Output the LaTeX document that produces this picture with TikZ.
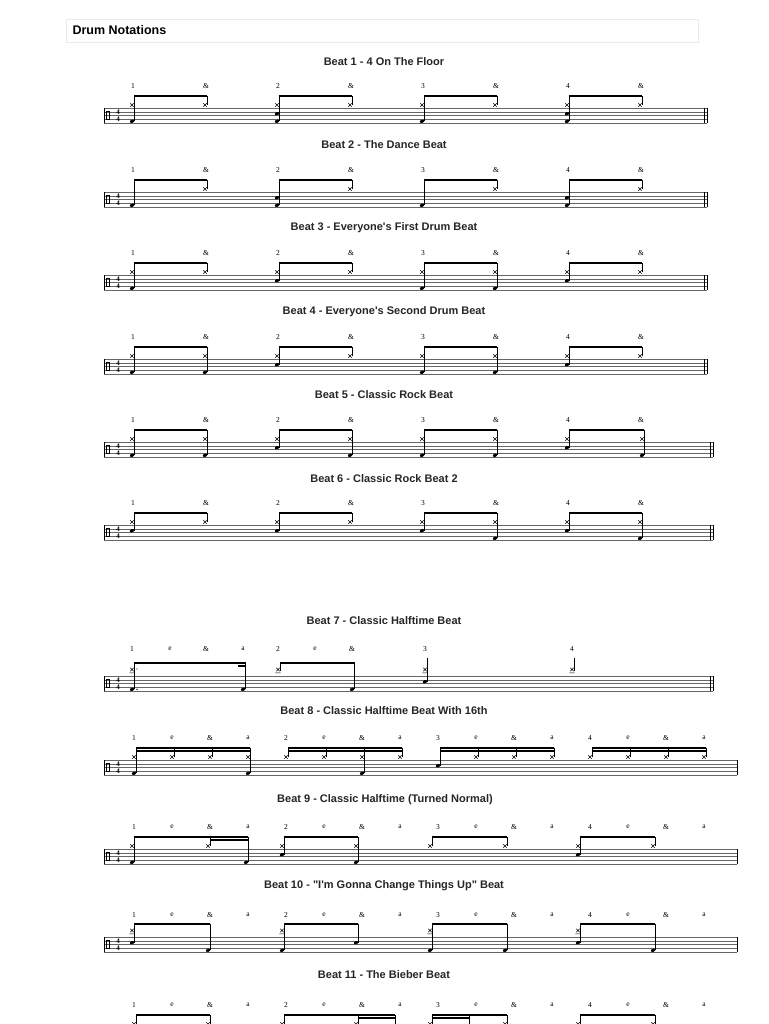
\documentclass[tikz,border=0pt]{standalone}
\usepackage{fontspec}
\setmainfont{Liberation Serif}
\newfontfamily\tsans{Liberation Sans}
\tikzset{
  title/.style={font=\tsans\bfseries\fontsize{11}{13}\selectfont, anchor=center, text=black!85},
  cnt/.style={font=\fontsize{7.5}{9}\selectfont, anchor=center},
  stf/.style={line width=0.45pt, black!60},
  stem/.style={line width=0.5pt},
  beam/.style={line width=1.6pt},
}
% staff: #1 top y, #2 right end, #3 double bar?
\newcommand\Staff[3]{%
  \foreach \k in {0,...,4} \draw[stf] (104,{#1+3.8*\k}) -- (#2,{#1+3.8*\k});
  \draw[line width=0.5pt] (104,#1) -- (104,{#1+15.2});
  \draw[line width=0.6pt] (106.5,{#1+3.5}) rectangle (109.5,{#1+11.7});
  \node[font=\bfseries\fontsize{7}{7}\selectfont,inner sep=0] at (118,{#1+3.8}) {4};
  \node[font=\bfseries\fontsize{7}{7}\selectfont,inner sep=0] at (118,{#1+11.4}) {4};
  \draw[line width=0.6pt] (#2,#1) -- (#2,{#1+15.2});
  \ifnum#3=1 \draw[line width=0.6pt] ({#2-3},#1) -- ({#2-3},{#1+15.2});\fi
}
\newcommand\HX[2]{\draw[line width=0.5pt] ({#1-1.7},{#2-4.7}) -- ({#1+1.7},{#2-1.3}) ({#1-1.7},{#2-1.3}) -- ({#1+1.7},{#2-4.7});}
\newcommand\AX[2]{\draw[line width=0.5pt] ({#1-1.7},{#2-8.2}) -- ({#1+1.7},{#2-4.8}) ({#1-1.7},{#2-4.8}) -- ({#1+1.7},{#2-8.2}) ({#1-2.6},{#2-3.2}) -- ({#1+2.6},{#2-3.2});}
\newcommand\HD[2]{\fill[rotate around={20:(#1,#2)}] (#1,#2) ellipse (2.3 and 1.6);}
\newcommand\SN[2]{\HD{#1}{#2+5.7}}
\newcommand\BD[2]{\HD{#1}{#2+13.3}}
% stem: x, T, bottom offset, top offset
\newcommand\ST[4]{\draw[stem] ({#1+2.2},{#2+#3}) -- ({#1+2.2},{#2-#4});}
\newcommand\Nh[2]{\HX{#1}{#2}\ST{#1}{#2}{-3}{12}}
\newcommand\Nhb[2]{\HX{#1}{#2}\BD{#1}{#2}\ST{#1}{#2}{13.3}{12}}
\newcommand\Nhs[2]{\HX{#1}{#2}\SN{#1}{#2}\ST{#1}{#2}{5.7}{12}}
\newcommand\Nhsb[2]{\HX{#1}{#2}\SN{#1}{#2}\BD{#1}{#2}\ST{#1}{#2}{13.3}{12}}
\newcommand\Nb[2]{\BD{#1}{#2}\ST{#1}{#2}{13.3}{12}}
\newcommand\Ns[2]{\SN{#1}{#2}\ST{#1}{#2}{5.7}{12}}
\newcommand\Nsb[2]{\SN{#1}{#2}\BD{#1}{#2}\ST{#1}{#2}{13.3}{12}}
\newcommand\Nas[2]{\AX{#1}{#2}\SN{#1}{#2}\ST{#1}{#2}{5.7}{13}}
\newcommand\Nab[2]{\AX{#1}{#2}\BD{#1}{#2}\ST{#1}{#2}{13.3}{13}}
\newcommand\BM[3]{\draw[beam] ({#1+1.95},{#3-12}) -- ({#2+2.45},{#3-12});}
\newcommand\BMM[3]{\draw[beam] ({#1+1.95},{#3-9}) -- ({#2+2.45},{#3-9});}
\newcommand\BMc[3]{\draw[beam] ({#1+1.95},{#3-13}) -- ({#2+2.45},{#3-13});}
% eighth counts
\newcommand\Ecounts[1]{%
  \foreach \o/\l in {132/1,277/2,422/3,567/4}{\node[cnt] at (\o+1,#1-22) {\l};\node[cnt] at (\o+74,#1-22) {\&};}}
\newcommand\Scounts[1]{%
  \foreach \o/\l [count=\i from 0] in {134/1,286/2,438/3,590/4}{%
    \node[cnt] at (\o,#1-22) {\l};\node[cnt] at (\o+38,#1-22) {e};
    \node[cnt] at (\o+76,#1-22) {\&};\node[cnt] at (\o+114,#1-22) {a};}}
\begin{document}
\begin{tikzpicture}[x=1pt,y=-1pt]
\useasboundingbox (0,0) rectangle (768,1024);
\clip (0,0) rectangle (768,1024);
\fill[white] (0,0) rectangle (768,1024);
\draw[black!8] (66,19) rectangle (698,42);
\node[font=\tsans\bfseries\fontsize{12.5}{14}\selectfont,anchor=west] (head) at (69,30) {Drum Notations};
% ---- Beat 1
\node[title] (t1) at (384,62) {Beat 1 - 4 On The Floor};
\def\T{108}\Staff{\T}{707}{1}\Ecounts{\T}
\Nhb{132}{\T}\Nh{205}{\T}\BM{132}{205}{\T}
\Nhsb{277}{\T}\Nh{350}{\T}\BM{277}{350}{\T}
\Nhb{422}{\T}\Nh{495}{\T}\BM{422}{495}{\T}
\Nhsb{567}{\T}\Nh{640}{\T}\BM{567}{640}{\T}
% ---- Beat 2
\node[title] (t2) at (384,145) {Beat 2 - The Dance Beat};
\def\T{192}\Staff{\T}{707}{1}\Ecounts{\T}
\Nb{132}{\T}\Nh{205}{\T}\BM{132}{205}{\T}
\Nsb{277}{\T}\Nh{350}{\T}\BM{277}{350}{\T}
\Nb{422}{\T}\Nh{495}{\T}\BM{422}{495}{\T}
\Nsb{567}{\T}\Nh{640}{\T}\BM{567}{640}{\T}
% ---- Beat 3
\node[title] (t3) at (384,228) {Beat 3 - Everyone's First Drum Beat};
\def\T{275}\Staff{\T}{707}{1}\Ecounts{\T}
\Nhb{132}{\T}\Nh{205}{\T}\BM{132}{205}{\T}
\Nhs{277}{\T}\Nh{350}{\T}\BM{277}{350}{\T}
\Nhb{422}{\T}\Nhb{495}{\T}\BM{422}{495}{\T}
\Nhs{567}{\T}\Nh{640}{\T}\BM{567}{640}{\T}
% ---- Beat 4
\node[title] (t4) at (384,312) {Beat 4 - Everyone's Second Drum Beat};
\def\T{359}\Staff{\T}{707}{1}\Ecounts{\T}
\Nhb{132}{\T}\Nhb{205}{\T}\BM{132}{205}{\T}
\Nhs{277}{\T}\Nh{350}{\T}\BM{277}{350}{\T}
\Nhb{422}{\T}\Nhb{495}{\T}\BM{422}{495}{\T}
\Nhs{567}{\T}\Nh{640}{\T}\BM{567}{640}{\T}
% ---- Beat 5
\node[title] (t5) at (384,395) {Beat 5 - Classic Rock Beat};
\def\T{442}\Staff{\T}{713}{1}\Ecounts{\T}
\Nhb{132}{\T}\Nhb{205}{\T}\BM{132}{205}{\T}
\Nhs{277}{\T}\Nhb{350}{\T}\BM{277}{350}{\T}
\Nhb{422}{\T}\Nhb{495}{\T}\BM{422}{495}{\T}
\Nhs{567}{\T}\Nhb{642}{\T}\BM{567}{642}{\T}
% ---- Beat 6
\node[title] (t6) at (384,479) {Beat 6 - Classic Rock Beat 2};
\def\T{525}\Staff{\T}{713}{1}\Ecounts{\T}
\Nhs{132}{\T}\Nh{205}{\T}\BM{132}{205}{\T}
\Nhs{277}{\T}\Nh{350}{\T}\BM{277}{350}{\T}
\Nhs{422}{\T}\Nhb{495}{\T}\BM{422}{495}{\T}
\Nhs{567}{\T}\Nhb{640}{\T}\BM{567}{640}{\T}
% ---- Beat 7
\node[title] (t7) at (384,621) {Beat 7 - Classic Halftime Beat};
\def\T{676}\Staff{\T}{713}{1}
\foreach \x/\l in {132/1,170/e,206/\&,243/a,278/2,315/e,352/\&,425/3,572/4}{\node[cnt] at (\x,\T-27) {\l};}
\Nab{132}{\T}\fill (137,{\T+13.3}) circle (0.8);\fill (137,{\T-7}) circle (0.6);
\Nb{243}{\T}\ST{243}{\T}{13.3}{14}
\BMc{132}{243}{\T}\draw[beam] (238,{\T-10}) -- (245.5,{\T-10});
\AX{278}{\T}\ST{278}{\T}{-5}{14}\Nb{352}{\T}\ST{352}{\T}{13.3}{14}\BMc{278}{352}{\T}
\Nas{425}{\T}\ST{425}{\T}{5.7}{18}
\AX{572}{\T}\ST{572}{\T}{-5}{18}
% ---- Beat 8
\node[title] (t8) at (384,711) {Beat 8 - Classic Halftime Beat With 16th};
\def\T{760}\Staff{\T}{737}{0}\Scounts{\T}
\Nhb{134}{\T}\Nh{172}{\T}\Nh{210}{\T}\Nhb{248}{\T}\BM{134}{248}{\T}\BMM{134}{248}{\T}
\Nh{286}{\T}\Nh{324}{\T}\Nhb{362}{\T}\Nh{400}{\T}\BM{286}{400}{\T}\BMM{286}{400}{\T}
\Ns{438}{\T}\Nh{476}{\T}\Nh{514}{\T}\Nh{552}{\T}\BM{438}{552}{\T}\BMM{438}{552}{\T}
\Nh{590}{\T}\Nh{628}{\T}\Nh{666}{\T}\Nh{704}{\T}\BM{590}{704}{\T}\BMM{590}{704}{\T}
% ---- Beat 9
\node[title] (t9) at (385,800) {Beat 9 - Classic Halftime (Turned Normal)};
\def\T{849}\Staff{\T}{737}{0}\Scounts{\T}
\Nhb{132}{\T}\Nh{208}{\T}\Nb{246}{\T}\BM{132}{246}{\T}\BMM{208}{246}{\T}
\Nhs{282}{\T}\Nhb{356}{\T}\BM{282}{356}{\T}
\Nh{430}{\T}\Nh{505}{\T}\BM{430}{505}{\T}
\Nhs{578}{\T}\Nh{653}{\T}\BM{578}{653}{\T}
% ---- Beat 10
\node[title] (t10) at (384,886) {Beat 10 - "I'm Gonna Change Things Up" Beat};
\def\T{937}\Staff{\T}{737}{0}\Scounts{\T}
\Nas{132}{\T}\Nb{208}{\T}\BMc{132}{208}{\T}\ST{208}{\T}{13.3}{13}
\Nab{282}{\T}\Ns{356}{\T}\BMc{282}{356}{\T}\ST{356}{\T}{5.7}{13}
\Nab{430}{\T}\Nb{505}{\T}\BMc{430}{505}{\T}\ST{505}{\T}{13.3}{13}
\Nas{578}{\T}\Nb{653}{\T}\BMc{578}{653}{\T}\ST{653}{\T}{13.3}{13}
% ---- Beat 11
\node[title] (t11) at (384,975) {Beat 11 - The Bieber Beat};
\def\T{1027}\Scounts{\T}
\HX{134}{\T}\HX{208}{\T}\ST{134}{\T}{2}{12}\ST{208}{\T}{2}{12}\BM{134}{208}{\T}
\HX{282}{\T}\HX{356}{\T}\ST{282}{\T}{2}{12}\ST{356}{\T}{2}{12}\ST{393}{\T}{2}{12}\BM{282}{393}{\T}\BMM{356}{393}{\T}
\HX{430}{\T}\HX{505}{\T}\ST{430}{\T}{2}{12}\ST{467}{\T}{2}{12}\ST{505}{\T}{2}{12}\BM{430}{505}{\T}\BMM{430}{467}{\T}
\HX{578}{\T}\HX{653}{\T}\ST{578}{\T}{2}{12}\ST{653}{\T}{2}{12}\BM{578}{653}{\T}
\end{tikzpicture}
\end{document}
